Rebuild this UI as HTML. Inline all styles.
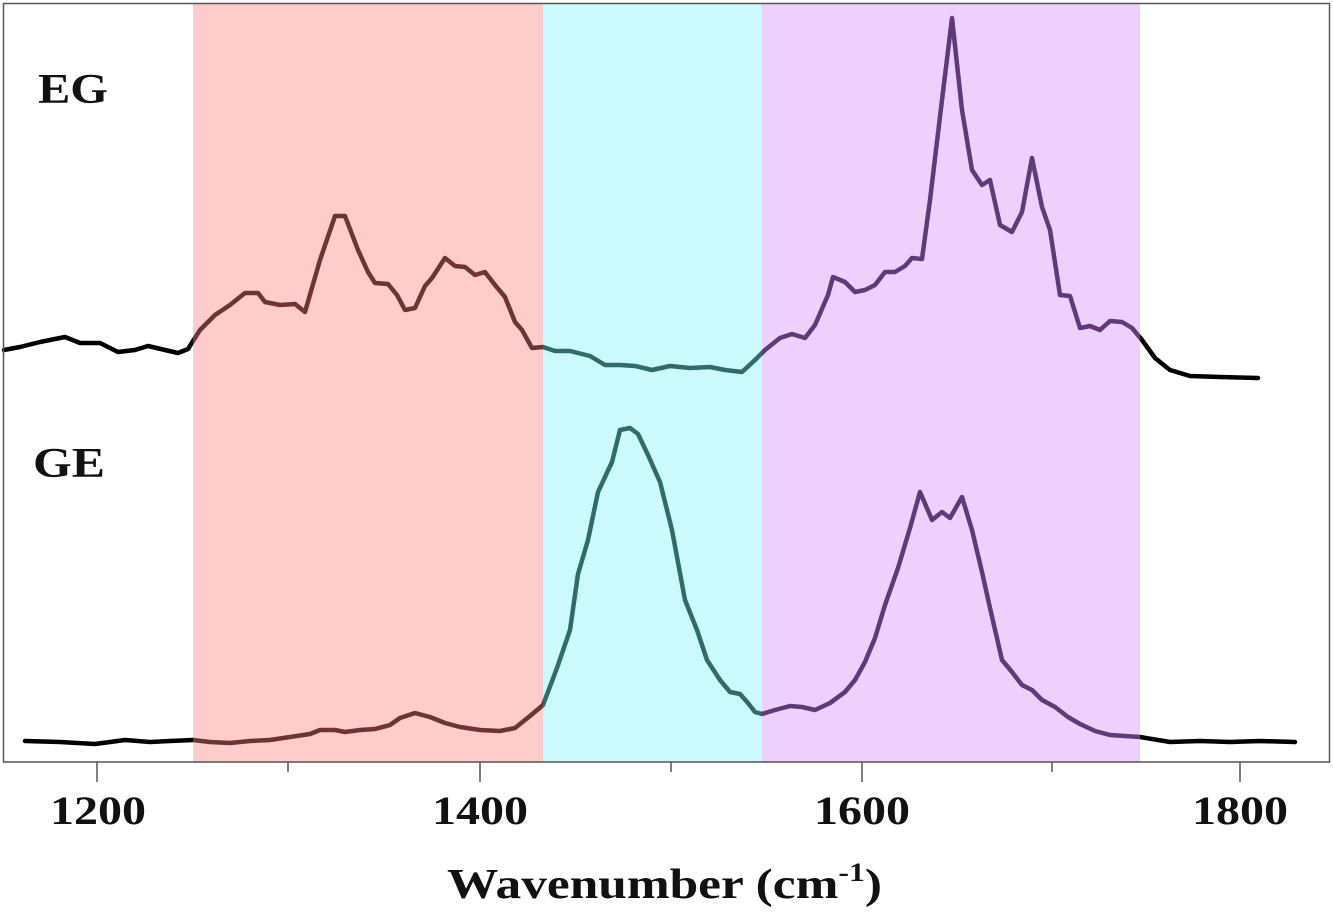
<!DOCTYPE html>
<html><head><meta charset="utf-8"><style>
html,body{margin:0;padding:0;background:#fff;}
svg{display:block;}
text{font-family:"Liberation Serif",serif;font-weight:bold;fill:#111;}
</style></head><body>
<svg width="1333" height="913" viewBox="0 0 1333 913" xmlns="http://www.w3.org/2000/svg">
<defs>
<clipPath id="cw"><rect x="0" y="0" width="193" height="913"/><rect x="1140" y="0" width="200" height="913"/></clipPath>
<clipPath id="cr"><rect x="193" y="0" width="350" height="913"/></clipPath>
<clipPath id="cc"><rect x="543" y="0" width="219" height="913"/></clipPath>
<clipPath id="cp"><rect x="762" y="0" width="378" height="913"/></clipPath>
<polyline id="eg" fill="none" stroke-width="4.5" stroke-linejoin="round" stroke-linecap="round" points="4,350 20,347 40,342 65,337 80,343 100,343 118,352 135,350 148,346 165,350 178,353 188,349 200,330 215,315 230,305 245,293 258,293 265,302 280,305 295,304 305,312 320,260 335,216 345,216 358,250 368,272 375,283 388,284 397,295 405,310 415,308 425,286 432,278 445,258 455,266 465,267 475,275 485,272 495,285 505,297 515,322 522,330 532,348 543,347 555,351 570,351 590,356 605,365 620,365 635,366 652,370 670,366 690,368 710,367 725,370 742,372 755,360 765,350 780,338 792,334 805,338 815,325 828,295 833,277 845,282 855,292 865,290 875,285 885,272 895,272 905,266 912,258 922,259 930,200 942,100 952,18 962,110 972,170 982,185 990,180 1000,225 1012,232 1022,212 1032,158 1042,207 1050,230 1060,295 1070,296 1080,328 1090,326 1100,330 1110,321 1122,322 1132,328 1142,340 1155,358 1170,370 1190,376 1220,377 1258,378"/>
<polyline id="ge" fill="none" stroke-width="4.5" stroke-linejoin="round" stroke-linecap="round" points="25,741 60,742 95,744 125,740 150,742 170,741 193,740 210,742 230,743 250,741 270,740 290,737 310,734 320,730 335,730 345,732 360,730 375,729 390,725 400,718 415,713 430,717 445,723 460,727 480,730 500,731 515,728 530,716 543,705 557,668 570,630 578,574 588,540 598,492 612,462 620,430 630,428 638,434 648,455 660,482 672,530 685,600 697,630 707,660 720,680 730,692 740,694 748,703 755,712 762,714 775,710 790,706 802,707 815,710 830,703 845,692 855,680 865,662 875,638 885,605 898,568 910,528 920,492 932,520 942,512 950,518 962,497 972,530 982,572 990,608 1002,660 1012,672 1022,685 1032,690 1042,700 1055,707 1068,717 1080,724 1095,731 1110,735 1140,737 1170,742 1200,741 1230,742 1260,741 1295,742"/>
</defs>
<rect x="193" y="4" width="350" height="758" fill="#ffcccc"/>
<rect x="543" y="4" width="219" height="758" fill="#ccfafc"/>
<rect x="762" y="4" width="378" height="758" fill="#eed0fc"/>
<g clip-path="url(#cw)" stroke="#000"><use href="#eg"/><use href="#ge"/></g>
<g clip-path="url(#cr)" stroke="#6e3434"><use href="#eg"/><use href="#ge"/></g>
<g clip-path="url(#cc)" stroke="#2f6b68"><use href="#eg"/><use href="#ge"/></g>
<g clip-path="url(#cp)" stroke="#5e3a7a"><use href="#eg"/><use href="#ge"/></g>
<rect x="3.5" y="3.5" width="1326" height="758.5" fill="none" stroke="#555" stroke-width="1.5"/>
<g stroke="#555" stroke-width="1.5">
<line x1="97" y1="762" x2="97" y2="782"/>
<line x1="288" y1="762" x2="288" y2="772"/>
<line x1="480" y1="762" x2="480" y2="782"/>
<line x1="671" y1="762" x2="671" y2="772"/>
<line x1="862" y1="762" x2="862" y2="782"/>
<line x1="1052" y1="762" x2="1052" y2="772"/>
<line x1="1240" y1="762" x2="1240" y2="782"/>
</g>
<g font-size="40">
<text x="50" y="824" textLength="96" lengthAdjust="spacingAndGlyphs">1200</text>
<text x="432" y="824" textLength="96" lengthAdjust="spacingAndGlyphs">1400</text>
<text x="814" y="824" textLength="96" lengthAdjust="spacingAndGlyphs">1600</text>
<text x="1192" y="824" textLength="96" lengthAdjust="spacingAndGlyphs">1800</text>
</g>
<text x="447" y="898" font-size="42" textLength="435" lengthAdjust="spacingAndGlyphs">Wavenumber (cm<tspan font-size="26" dy="-17">-1</tspan><tspan dy="17">)</tspan></text>
<text x="38" y="103" font-size="42" textLength="70" lengthAdjust="spacingAndGlyphs">EG</text>
<text x="33" y="477" font-size="42" textLength="72" lengthAdjust="spacingAndGlyphs">GE</text>
</svg>
</body></html>
